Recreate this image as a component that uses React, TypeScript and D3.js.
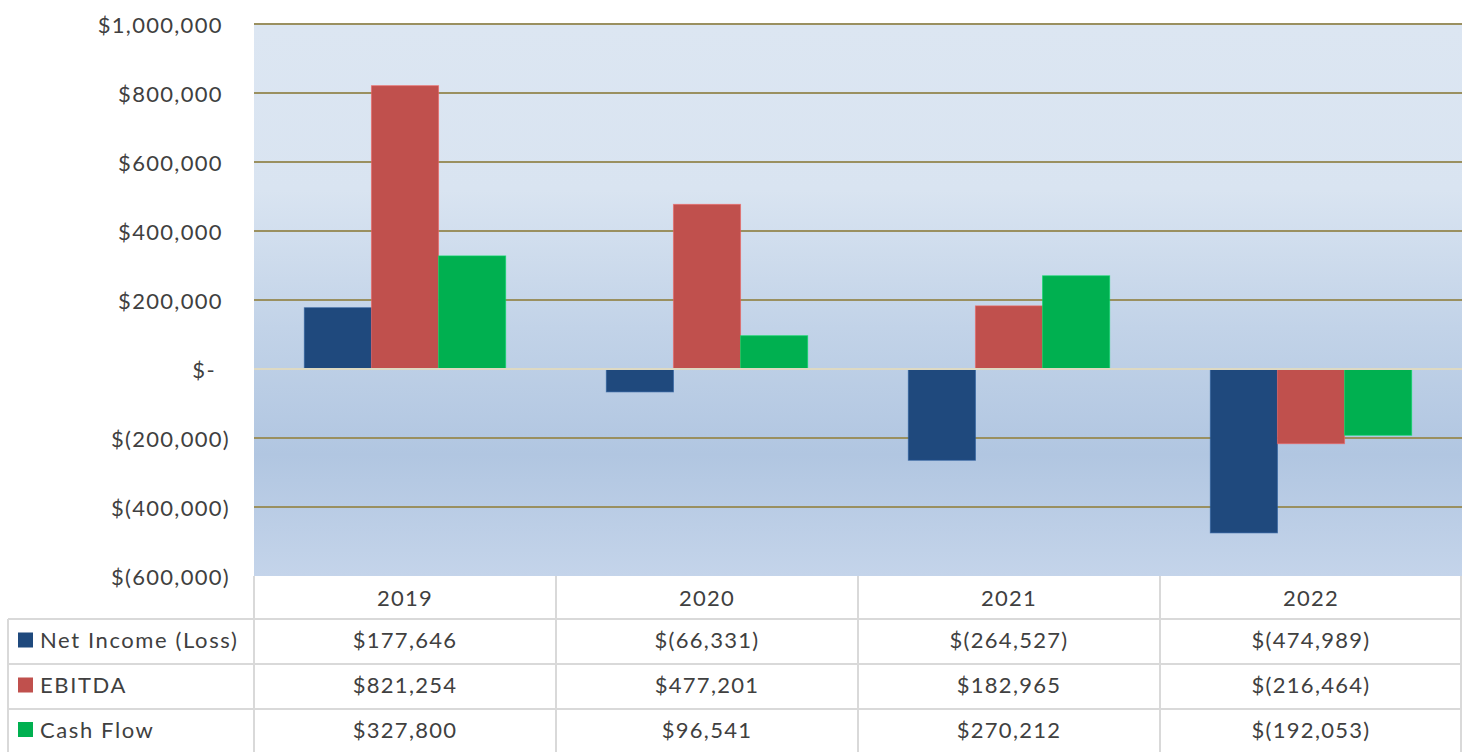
import React from "react";
import * as d3 from "d3";

const years = ["2019", "2020", "2021", "2022"];
const seriesNames = ["Net Income (Loss)", "EBITDA", "Cash Flow"];
const netIncome = [177646, -66331, -264527, -474989];
const ebitda = [821254, 477201, 182965, -216464];
const cashFlow = [327800, 96541, 270212, -192053];
const seriesColors = ["#1f497d", "#c0504d", "#00b050"];
const yTicks = [1000000, 800000, 600000, 400000, 200000, 0, -200000, -400000, -600000];

const W = 1462;
const H = 752;
const plotL = 254;
const plotR = 1462;
const plotT = 24;
const plotB = 576;
const rowLines = [576, 619, 664, 709, 753];
const FONT = "Lato, 'Open Sans', sans-serif";
const TXT = "#404040";
const FS = 22;
const LS = 1.3;

const seriesValues = [netIncome, ebitda, cashFlow];

const fmtNum = d3.format(",.0f");
function acct(v: number): { main: string; pad: string } {
  if (v === 0) return { main: "$-", pad: " )" };
  if (v < 0) return { main: "$(" + fmtNum(-v) + ")", pad: "" };
  return { main: "$" + fmtNum(v), pad: ")" };
}
function tableFmt(v: number): string {
  if (v < 0) return "$(" + fmtNum(-v) + ")";
  return "$" + fmtNum(v);
}

export default function App() {
  const y = d3.scaleLinear().domain([-600000, 1000000]).range([plotB, plotT]);
  const x0 = d3.scaleBand<string>().domain(years).range([plotL, plotR]).padding(0);
  const x1 = d3
    .scaleBand<string>()
    .domain(seriesNames)
    .range([0, x0.bandwidth()])
    .paddingInner(0)
    .paddingOuter(0.75);

  return (
    <svg
      width={W}
      height={H}
      style={{ position: "absolute", left: 0, top: 0, display: "block" }}
      fontFamily={FONT}
      letterSpacing={LS}
    >
      <defs>
        <linearGradient id="bg" x1="0" y1="0" x2="0" y2="1">
          <stop offset="0%" stopColor="#dce6f2" />
          <stop offset="30%" stopColor="#d9e4f1" />
          <stop offset="55%" stopColor="#c2d3e8" />
          <stop offset="78%" stopColor="#b1c6e1" />
          <stop offset="100%" stopColor="#c4d4ea" />
        </linearGradient>
      </defs>
      <rect x={0} y={0} width={W} height={H} fill="#ffffff" />
      <rect x={plotL} y={plotT} width={plotR - plotL} height={plotB - plotT} fill="url(#bg)" />

      {/* gridlines */}
      {yTicks
        .filter((t) => t !== 0 && t !== -600000)
        .map((t) => (
          <line
            key={"g" + t}
            x1={plotL}
            x2={plotR}
            y1={y(t)}
            y2={y(t)}
            stroke="#9a9060"
            strokeWidth={2}
          />
        ))}

      {/* y labels */}
      {yTicks.map((t) => {
        const f = acct(t);
        return (
          <text
            key={"yl" + t}
            x={230}
            y={y(t)}
            textAnchor="end"
            dominantBaseline="central"
            fontSize={FS}
            fill={TXT}
            style={{ whiteSpace: "pre" }}
          >
            {f.main}
            <tspan fillOpacity={0}>{f.pad}</tspan>
          </text>
        );
      })}

      {/* bars */}
      {years.map((yr, i) => (
        <g key={"bg" + yr} transform={`translate(${x0(yr)},0)`}>
          {seriesNames.map((s, j) => {
            const v = seriesValues[j][i];
            const top = Math.min(y(v), y(0));
            const h = Math.abs(y(v) - y(0));
            return (
              <rect
                key={s}
                x={x1(s)}
                y={top}
                width={x1.bandwidth()}
                height={h}
                fill={seriesColors[j]}
                stroke={d3.color(seriesColors[j])!.brighter(0.6).formatHex()}
                strokeOpacity={0.6}
                strokeWidth={1}
              />
            );
          })}
        </g>
      ))}

      {/* zero line */}
      <line x1={plotL} x2={plotR} y1={y(0)} y2={y(0)} stroke="#ddd9c3" strokeWidth={2} />

      {/* data table */}
      <g stroke="#d9d9d9" strokeWidth={2}>
        {rowLines.slice(1, rowLines.length - 1).map((ry) => (
          <line key={"hr" + ry} x1={8} x2={plotR - 1} y1={ry} y2={ry} />
        ))}
        <line x1={8} x2={8} y1={rowLines[1]} y2={H} />
        {years.map((yr) => (
          <line key={"vl" + yr} x1={x0(yr)!} x2={x0(yr)!} y1={plotB} y2={H} />
        ))}
        <line x1={plotR - 1} x2={plotR - 1} y1={plotB} y2={H} />
      </g>

      {years.map((yr) => (
        <text
          key={"yr" + yr}
          x={x0(yr)! + x0.bandwidth() / 2}
          y={(rowLines[0] + rowLines[1]) / 2}
          textAnchor="middle"
          dominantBaseline="central"
          fontSize={FS}
          fill={TXT}
        >
          {yr}
        </text>
      ))}

      {seriesNames.map((s, j) => {
        const cy = (rowLines[j + 1] + rowLines[j + 2]) / 2 - 2;
        return (
          <g key={"row" + s}>
            <rect x={18} y={cy - 7} width={15} height={15} fill={seriesColors[j]} />
            <text x={40} y={cy} dominantBaseline="central" fontSize={FS} fill={TXT} letterSpacing={1.6}>
              {s}
            </text>
            {years.map((yr, i) => (
              <text
                key={"v" + yr}
                x={x0(yr)! + x0.bandwidth() / 2}
                y={cy}
                textAnchor="middle"
                dominantBaseline="central"
                fontSize={FS}
                fill={TXT}
              >
                {tableFmt(seriesValues[j][i])}
              </text>
            ))}
          </g>
        );
      })}
    </svg>
  );
}
